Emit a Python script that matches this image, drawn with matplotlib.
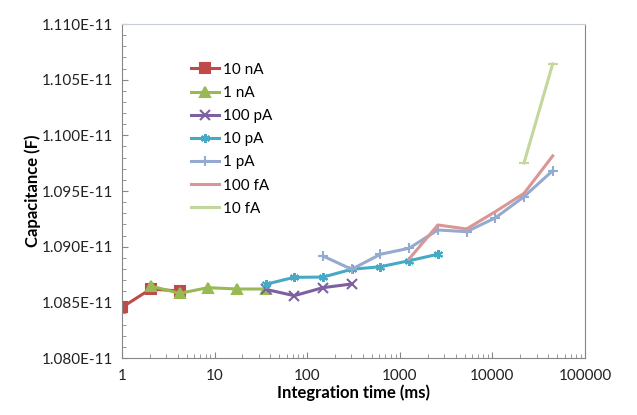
import numpy as np
import matplotlib.pyplot as plt
from matplotlib.ticker import FuncFormatter, LogLocator, MultipleLocator, NullFormatter

plt.rcParams['font.family'] = ['Lato', 'DejaVu Sans']

# integration time per step (ms); each series uses a slice of these
t = [1, 2.04, 4.18, 8.5, 17.4, 35.5, 72.5, 148, 302, 617,
     1260, 2570, 5250, 10700, 21900, 44700]

labels = ['10 nA', '1 nA', '100 pA', '10 pA', '1 pA', '100 fA', '10 fA']
start = [0, 1, 5, 5, 7, 10, 14]
cap = [
    [1.08455, 1.08620, 1.08602],
    [1.08647, 1.08581, 1.08632, 1.08620, 1.08620],
    [1.08617, 1.08560, 1.08632, 1.08665],
    [1.08662, 1.08725, 1.08727, 1.08797, 1.08820, 1.08874, 1.08932],
    [1.08916, 1.08797, 1.08932, 1.08986, 1.09150, 1.09135, 1.09258, 1.09449, 1.09683],
    [1.08890, 1.09195, 1.09159, 1.09314, 1.09479, 1.09815],
    [1.09752, 1.10642],
]
colors = ['#BE4B48', '#98B954', '#7D60A0', '#46AAC5', '#95AAD0', '#D99694', '#C3D69B']
markers = ['s', '^', 'x', (6, 2, 0), '+', 'None', '_']

fig = plt.figure(figsize=(6.37, 4.15), dpi=100)
ax = fig.add_axes([0.1915, 0.1373, 0.7270, 0.8048])

for i in range(len(labels)):
    x = t[start[i]:start[i] + len(cap[i])]
    y = np.array(cap[i]) * 1e-11
    ax.plot(x, y, color=colors[i], marker=markers[i], lw=2.2, ms=6.5,
            mew=1.5, label=labels[i])

ax.set_xscale('log')
ax.set_xlim(1, 100000)
ax.set_ylim(1.080e-11, 1.110e-11)
ax.set_yticks(np.arange(1.080, 1.1101, 0.005) * 1e-11)
ax.yaxis.set_minor_locator(MultipleLocator(0.001e-11))
ax.yaxis.set_major_formatter(FuncFormatter(lambda v, p: '%.3fE-11' % (v / 1e-11)))
ax.xaxis.set_major_formatter(FuncFormatter(lambda v, p: '%d' % round(v)))
ax.xaxis.set_minor_locator(LogLocator(base=10, subs=np.arange(2, 10)))
ax.xaxis.set_minor_formatter(NullFormatter())

ax.tick_params(which='both', direction='in', color='#868686', labelsize=11, labelcolor='#222222')
ax.tick_params(which='major', length=4)
ax.tick_params(which='minor', length=3)
ax.tick_params(axis='x', which='major', pad=8)
ax.tick_params(axis='y', which='major', pad=6)
for s in ax.spines.values():
    s.set_color('#868686')
ax.spines['top'].set_color('#C8CED6')

ax.set_xlabel('Integration time (ms)', fontsize=12, fontweight='bold', labelpad=1)
ax.set_ylabel('Capacitance (F)', fontsize=12, fontweight='bold', labelpad=1)

ax.legend(loc='upper left', bbox_to_anchor=(0.12, 0.925), frameon=False,
          fontsize=11, handlelength=1.8, labelspacing=0.6, handletextpad=0.3)

fig.savefig('out.png', dpi=100)
